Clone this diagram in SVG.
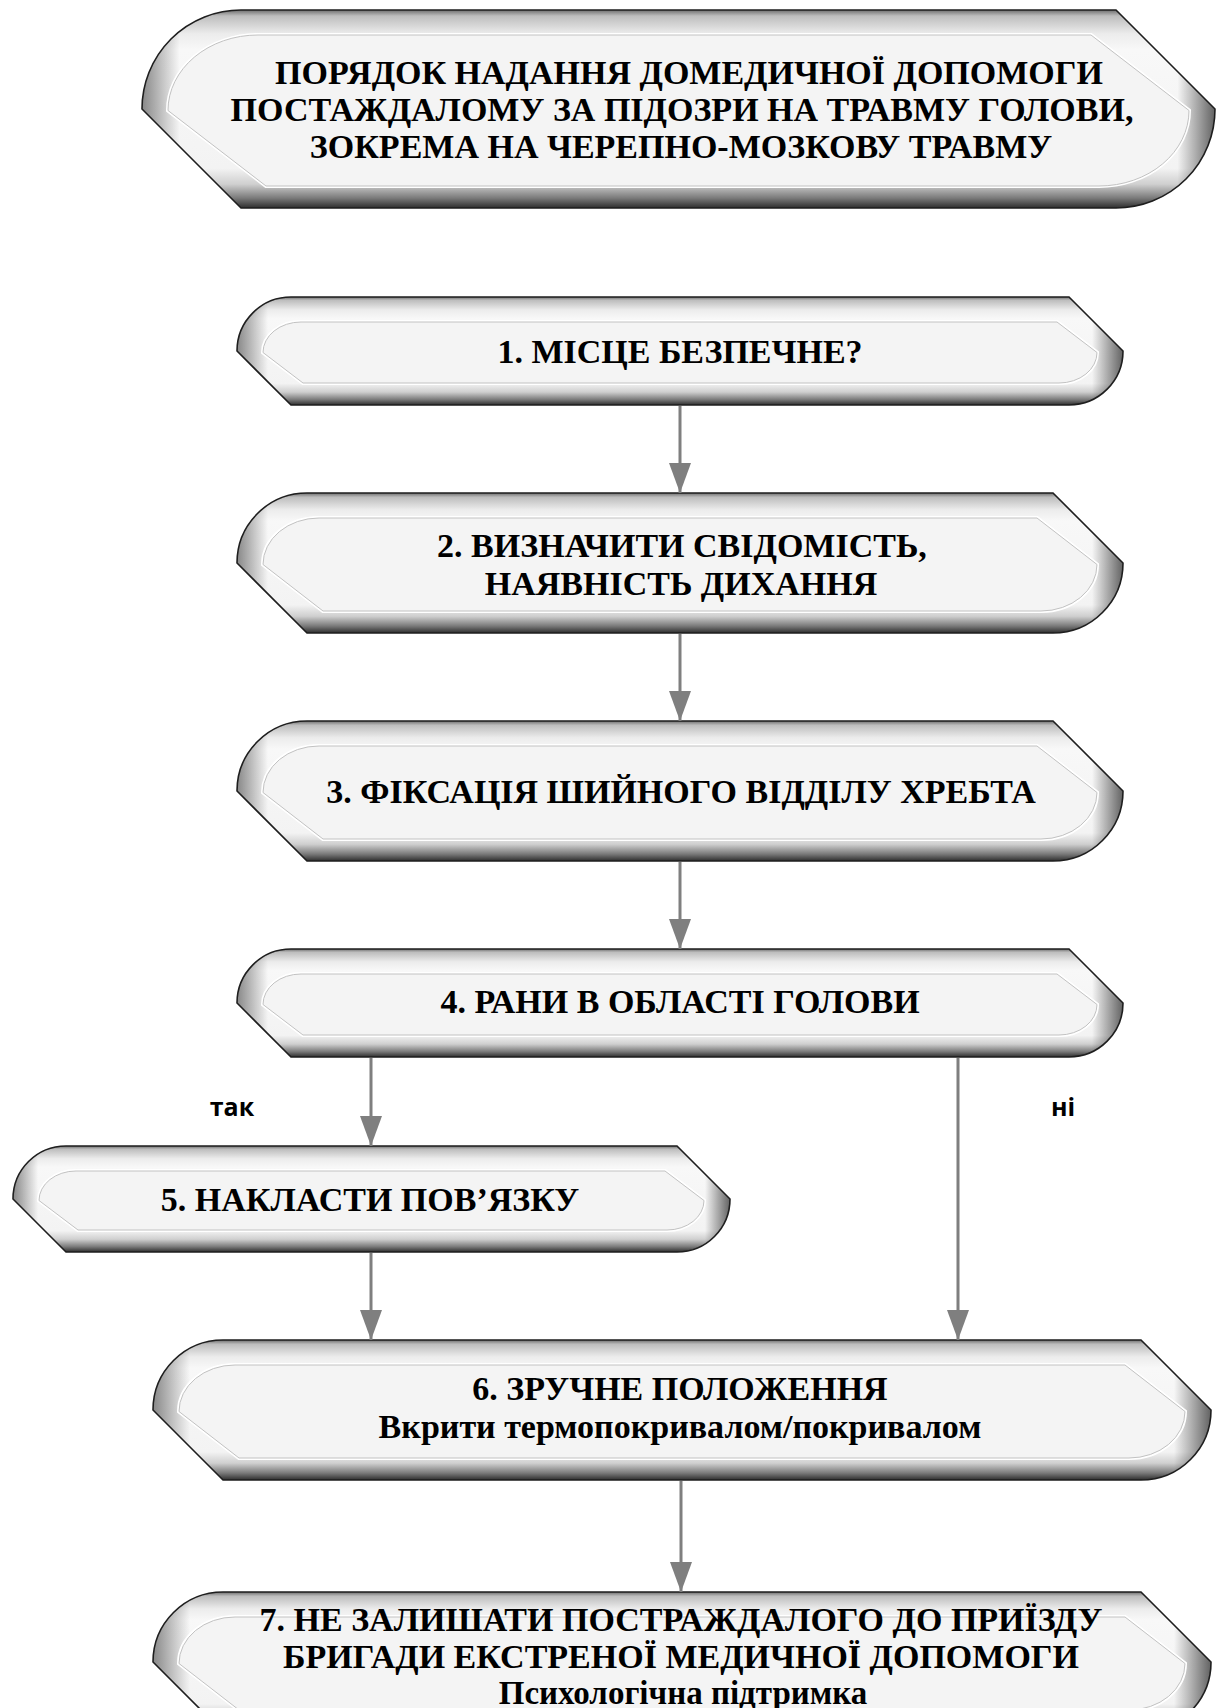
<svg xmlns="http://www.w3.org/2000/svg" xmlns:xlink="http://www.w3.org/1999/xlink" width="1217" height="1708" viewBox="0 0 1217 1708">
<style>
.outer{fill:url(#bev);stroke:none}
.shade{fill:url(#side);stroke:#1e1e1e;stroke-width:1.6}
.hl{fill:none;stroke:#ffffff;stroke-width:4}
.face{fill:#f4f4f4;stroke:#c2c2c2;stroke-width:1}
.t{font-family:"Liberation Serif","Times New Roman",serif;font-weight:bold;font-size:34px;fill:#000;text-anchor:middle}
.s{font-family:"Liberation Serif","Times New Roman",serif;font-weight:bold;font-size:34px;fill:#000;text-anchor:middle}
.lbl{font-family:"Open Sans","Liberation Sans",sans-serif;font-weight:bold;font-size:25px;fill:#000;text-anchor:middle}
.c{stroke:#7f7f7f;stroke-width:3;fill:none;marker-end:url(#ah)}
</style>
<defs>
<linearGradient id="bev" x1="0" y1="0" x2="0" y2="1">
<stop offset="0" stop-color="#6e6e6e"/>
<stop offset="0.03" stop-color="#bdbdbd"/>
<stop offset="0.12" stop-color="#ececec"/>
<stop offset="0.2" stop-color="#f8f8f8"/>
<stop offset="0.8" stop-color="#f3f3f3"/>
<stop offset="0.88" stop-color="#cfcfcf"/>
<stop offset="0.95" stop-color="#7a7a7a"/>
<stop offset="1" stop-color="#2e2e2e"/>
</linearGradient>
<linearGradient id="side" x1="0" y1="0" x2="1" y2="0">
<stop offset="0" stop-color="#000" stop-opacity="0.45"/>
<stop offset="0.035" stop-color="#000" stop-opacity="0"/>
<stop offset="0.965" stop-color="#000" stop-opacity="0"/>
<stop offset="1" stop-color="#000" stop-opacity="0.6"/>
</linearGradient>
<marker id="ah" markerUnits="userSpaceOnUse" viewBox="0 0 30 22" refX="30" refY="11" markerWidth="30" markerHeight="22" orient="auto">
<path d="M0,0 L30,11 L0,22 Z" fill="#7f7f7f"/>
</marker>
<path id="o0" d="M241,10 H1116 L1215,109 A99,99 0 0 1 1116,208 H241 L142,109 A99,99 0 0 1 241,10 Z"/>
<path id="i0" d="M258,35 H1091 L1189,110.5 A90,75.5 0 0 1 1099,186 H266 L168,110.5 A90,75.5 0 0 1 258,35 Z"/>
<path id="o1" d="M291,297 H1069 L1123,351 A54,54 0 0 1 1069,405 H291 L237,351 A54,54 0 0 1 291,297 Z"/>
<path id="i1" d="M301,322 H1057 L1097,352.5 A38,30.5 0 0 1 1059,383 H303 L263,352.5 A38,30.5 0 0 1 301,322 Z"/>
<path id="o2" d="M307,493 H1053 L1123,563 A70,70 0 0 1 1053,633 H307 L237,563 A70,70 0 0 1 307,493 Z"/>
<path id="i2" d="M319,518 H1037 L1097,564.5 A56,46.5 0 0 1 1041,611 H323 L263,564.5 A56,46.5 0 0 1 319,518 Z"/>
<path id="o3" d="M307,721 H1053 L1123,791 A70,70 0 0 1 1053,861 H307 L237,791 A70,70 0 0 1 307,721 Z"/>
<path id="i3" d="M319,746 H1037 L1097,792.5 A56,46.5 0 0 1 1041,839 H323 L263,792.5 A56,46.5 0 0 1 319,746 Z"/>
<path id="o4" d="M291,949 H1069 L1123,1003 A54,54 0 0 1 1069,1057 H291 L237,1003 A54,54 0 0 1 291,949 Z"/>
<path id="i4" d="M301,974 H1057 L1097,1004.5 A38,30.5 0 0 1 1059,1035 H303 L263,1004.5 A38,30.5 0 0 1 301,974 Z"/>
<path id="o5" d="M66,1146 H677 L730,1199 A53,53 0 0 1 677,1252 H66 L13,1199 A53,53 0 0 1 66,1146 Z"/>
<path id="i5" d="M76,1171 H665 L704,1200.5 A37,29.5 0 0 1 667,1230 H78 L39,1200.5 A37,29.5 0 0 1 76,1171 Z"/>
<path id="o6" d="M223,1340 H1141 L1211,1410 A70,70 0 0 1 1141,1480 H223 L153,1410 A70,70 0 0 1 223,1340 Z"/>
<path id="i6" d="M235,1365 H1125 L1185,1411.5 A56,46.5 0 0 1 1129,1458 H239 L179,1411.5 A56,46.5 0 0 1 235,1365 Z"/>
<path id="o7" d="M223,1592 H1141 L1211,1662 A70,70 0 0 1 1141,1732 H223 L153,1662 A70,70 0 0 1 223,1592 Z"/>
<path id="i7" d="M235,1617 H1125 L1185,1663.5 A56,46.5 0 0 1 1129,1710 H239 L179,1663.5 A56,46.5 0 0 1 235,1617 Z"/>
</defs>
<rect width="1217" height="1708" fill="#fff"/>

<g id="title">
<use href="#o0" class="outer"/><use href="#o0" class="shade"/><use href="#i0" class="hl"/><use href="#i0" class="face"/>
<text class="t" x="689" y="84">ПОРЯДОК НАДАННЯ ДОМЕДИЧНОЇ ДОПОМОГИ</text>
<text class="t" x="682" y="121">ПОСТАЖДАЛОМУ ЗА ПІДОЗРИ НА ТРАВМУ ГОЛОВИ,</text>
<text class="t" x="681" y="158">ЗОКРЕМА НА ЧЕРЕПНО-МОЗКОВУ ТРАВМУ</text>
</g>

<g id="node1">
<use href="#o1" class="outer"/><use href="#o1" class="shade"/><use href="#i1" class="hl"/><use href="#i1" class="face"/>
<text class="t" x="680" y="363">1. МІСЦЕ БЕЗПЕЧНЕ?</text>
</g>

<g id="node2">
<use href="#o2" class="outer"/><use href="#o2" class="shade"/><use href="#i2" class="hl"/><use href="#i2" class="face"/>
<text class="t" x="682" y="557">2. ВИЗНАЧИТИ СВІДОМІСТЬ,</text>
<text class="t" x="681" y="595">НАЯВНІСТЬ ДИХАННЯ</text>
</g>

<g id="node3">
<use href="#o3" class="outer"/><use href="#o3" class="shade"/><use href="#i3" class="hl"/><use href="#i3" class="face"/>
<text class="t" x="681" y="803">3. ФІКСАЦІЯ ШИЙНОГО ВІДДІЛУ ХРЕБТА</text>
</g>

<g id="node4">
<use href="#o4" class="outer"/><use href="#o4" class="shade"/><use href="#i4" class="hl"/><use href="#i4" class="face"/>
<text class="t" x="680" y="1013">4. РАНИ В ОБЛАСТІ ГОЛОВИ</text>
</g>

<g id="node5">
<use href="#o5" class="outer"/><use href="#o5" class="shade"/><use href="#i5" class="hl"/><use href="#i5" class="face"/>
<text class="t" x="370" y="1211">5. НАКЛАСТИ ПОВ’ЯЗКУ</text>
</g>

<g id="node6">
<use href="#o6" class="outer"/><use href="#o6" class="shade"/><use href="#i6" class="hl"/><use href="#i6" class="face"/>
<text class="t" x="680" y="1400">6. ЗРУЧНЕ ПОЛОЖЕННЯ</text>
<text class="s" x="680" y="1438">Вкрити термопокривалом/покривалом</text>
</g>

<g id="node7">
<use href="#o7" class="outer"/><use href="#o7" class="shade"/><use href="#i7" class="hl"/><use href="#i7" class="face"/>
<text class="t" x="681" y="1631">7. НЕ ЗАЛИШАТИ ПОСТРАЖДАЛОГО ДО ПРИЇЗДУ</text>
<text class="t" x="681" y="1668">БРИГАДИ ЕКСТРЕНОЇ МЕДИЧНОЇ ДОПОМОГИ</text>
<text class="s" x="683" y="1704" style="font-size:33px">Психологічна підтримка</text>
</g>

<g id="connectors">
<line class="c" x1="680" y1="406" x2="680" y2="493"/>
<line class="c" x1="680" y1="634" x2="680" y2="721"/>
<line class="c" x1="680" y1="862" x2="680" y2="949"/>
<line class="c" x1="371" y1="1058" x2="371" y2="1146"/>
<line class="c" x1="958" y1="1058" x2="958" y2="1340"/>
<line class="c" x1="371" y1="1253" x2="371" y2="1340"/>
<line class="c" x1="681" y1="1481" x2="681" y2="1592"/>
<text class="lbl" x="232" y="1116">так</text>
<text class="lbl" x="1063" y="1116">ні</text>
</g>
</svg>
